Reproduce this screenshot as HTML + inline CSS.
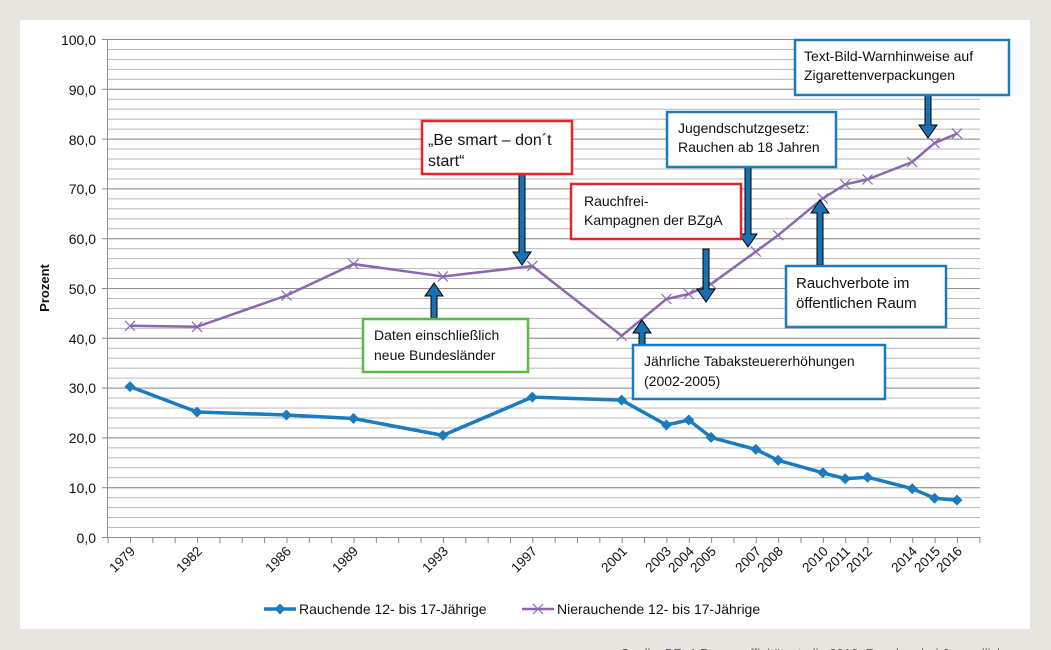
<!DOCTYPE html>
<html><head><meta charset="utf-8"><style>
html,body{margin:0;padding:0;background:#e6e6de;}
svg{display:block;font-family:"Liberation Sans",sans-serif;}
</style></head><body>
<svg width="1051" height="650" viewBox="0 0 1051 650" xmlns="http://www.w3.org/2000/svg">
<defs>
<pattern id="grid" x="107" y="39" width="900" height="9.96" patternUnits="userSpaceOnUse">
<line x1="0" y1="0.5" x2="900" y2="0.5" stroke="#b8b8b8" stroke-width="1"/>
</pattern>
<pattern id="ticks" x="107.65" y="537" width="22.35" height="6" patternUnits="userSpaceOnUse">
<line x1="0.5" y1="0" x2="0.5" y2="6" stroke="#888" stroke-width="1"/>
</pattern>
<marker id="d" viewBox="-6 -6 12 12" markerWidth="12" markerHeight="12" markerUnits="userSpaceOnUse">
<path d="M0,-5.5 L5.5,0 L0,5.5 L-5.5,0Z" fill="#1a7bbf"/>
</marker>
<marker id="x" viewBox="-6 -6 12 12" markerWidth="12" markerHeight="12" markerUnits="userSpaceOnUse">
<path d="M-5,-5 L5,5 M-5,5 L5,-5" stroke="#8a68b0" stroke-width="1.2"/>
</marker>
</defs>
<rect x="20" y="20" width="1010" height="609" fill="#fff"/>
<rect x="107" y="39" width="873" height="498" fill="url(#grid)"/>
<g stroke="#8f8f8f" stroke-width="1">
<line x1="107" y1="39.5" x2="980" y2="39.5"/><line x1="107" y1="89.3" x2="980" y2="89.3"/>
<line x1="107" y1="139.1" x2="980" y2="139.1"/><line x1="107" y1="188.9" x2="980" y2="188.9"/>
<line x1="107" y1="238.7" x2="980" y2="238.7"/><line x1="107" y1="288.5" x2="980" y2="288.5"/>
<line x1="107" y1="338.3" x2="980" y2="338.3"/><line x1="107" y1="388.1" x2="980" y2="388.1"/>
<line x1="107" y1="437.9" x2="980" y2="437.9"/><line x1="107" y1="487.7" x2="980" y2="487.7"/>
<line x1="107" y1="537.5" x2="980" y2="537.5"/>
<line x1="107.5" y1="39" x2="107.5" y2="537"/>
</g>
<g stroke="#8f8f8f"><line x1="102" y1="39.5" x2="107" y2="39.5"/><line x1="102" y1="89.3" x2="107" y2="89.3"/><line x1="102" y1="139.1" x2="107" y2="139.1"/><line x1="102" y1="188.9" x2="107" y2="188.9"/><line x1="102" y1="238.7" x2="107" y2="238.7"/><line x1="102" y1="288.5" x2="107" y2="288.5"/><line x1="102" y1="338.3" x2="107" y2="338.3"/><line x1="102" y1="388.1" x2="107" y2="388.1"/><line x1="102" y1="437.9" x2="107" y2="437.9"/><line x1="102" y1="487.7" x2="107" y2="487.7"/><line x1="102" y1="537.5" x2="107" y2="537.5"/></g>
<rect x="107" y="537" width="874" height="6" fill="url(#ticks)"/>
<g font-size="14" text-anchor="end" fill="#111">
<text x="96" y="45">100,0</text><text x="96" y="95">90,0</text><text x="96" y="145">80,0</text><text x="96" y="194">70,0</text><text x="96" y="244">60,0</text><text x="96" y="294">50,0</text><text x="96" y="344">40,0</text><text x="96" y="393">30,0</text><text x="96" y="443">20,0</text><text x="96" y="493">10,0</text><text x="96" y="543">0,0</text>
</g>
<text transform="translate(49,288) rotate(-90)" font-size="13" font-weight="bold" text-anchor="middle" fill="#111">Prozent</text>
<g font-size="13.5" text-anchor="end" fill="#111">
<text transform="translate(136,552) rotate(-45)">1979</text>
<text transform="translate(203,552) rotate(-45)">1982</text>
<text transform="translate(292,552) rotate(-45)">1986</text>
<text transform="translate(359,552) rotate(-45)">1989</text>
<text transform="translate(449,552) rotate(-45)">1993</text>
<text transform="translate(538,552) rotate(-45)">1997</text>
<text transform="translate(628,552) rotate(-45)">2001</text>
<text transform="translate(672,552) rotate(-45)">2003</text>
<text transform="translate(695,552) rotate(-45)">2004</text>
<text transform="translate(717,552) rotate(-45)">2005</text>
<text transform="translate(762,552) rotate(-45)">2007</text>
<text transform="translate(784,552) rotate(-45)">2008</text>
<text transform="translate(829,552) rotate(-45)">2010</text>
<text transform="translate(851,552) rotate(-45)">2011</text>
<text transform="translate(873,552) rotate(-45)">2012</text>
<text transform="translate(918,552) rotate(-45)">2014</text>
<text transform="translate(941,552) rotate(-45)">2015</text>
<text transform="translate(963,552) rotate(-45)">2016</text>
</g>
<polyline fill="none" stroke="#8a68b0" stroke-width="2.5" marker-start="url(#x)" marker-mid="url(#x)" marker-end="url(#x)"
points="130,325.8 197.05,326.8 286.45,295.5 353.5,264.1 442.9,276.5 532.3,266.1 621.7,335.8 666.4,299 688.75,294 711.1,284 755.8,251.6 778.15,235.2 822.85,198.4 845.2,184.4 867.55,179.4 912.25,162 934.6,143.1 956.95,133.6"/>
<polyline fill="none" stroke="#1a7bbf" stroke-width="3.5" stroke-linejoin="round" marker-start="url(#d)" marker-mid="url(#d)" marker-end="url(#d)"
points="130,386.6 197.05,412 286.45,415 353.5,418.5 442.9,435.4 532.3,397.1 621.7,400.1 666.4,425 688.75,420 711.1,437.4 755.8,449.4 778.15,460.3 822.85,472.8 845.2,478.7 867.55,477.2 912.25,488.7 934.6,498.2 956.95,500.1"/>
<g fill="#1a6fb0" stroke="#000" stroke-width="1">
<path d="M519,174 h6 v78 h6 l-9,13 l-9,-13 h6z"/>
<path d="M703,249 h6 v40 h6 l-9,13 l-9,-13 h6z"/>
<path d="M745,167 h6 v67 h6 l-9,13 l-9,-13 h6z"/>
<path d="M925,95 h6 v30 h6 l-9,13 l-9,-13 h6z"/>
<path d="M817,265 h6 v-52 h6 l-9,-13 l-9,13 h6z"/>
<path d="M431,318 h6 v-22 h6 l-9,-13 l-9,13 h6z"/>
<path d="M639,345 h6 v-12 h6 l-9,-13 l-9,13 h6z"/>
</g>
<g font-size="14" fill="#111">
<rect x="422" y="121" width="150" height="53" fill="#fff" stroke="#e0262b" stroke-width="2.5"/>
<text x="428" y="145" font-size="16">„Be smart – don´t</text><text x="428" y="166" font-size="16">start“</text>
<rect x="571" y="184" width="170" height="55" fill="#fff" stroke="#e0262b" stroke-width="2.5"/>
<text x="584" y="206">Rauchfrei-</text><text x="584" y="225">Kampagnen der BZgA</text>
<rect x="667" y="112" width="169" height="55" fill="#fff" stroke="#1a7bbf" stroke-width="2.5"/>
<text x="678" y="133">Jugendschutzgesetz:</text><text x="678" y="152">Rauchen ab 18 Jahren</text>
<rect x="795" y="40" width="214" height="55" fill="#fff" stroke="#1a7bbf" stroke-width="2.5"/>
<text x="804" y="61">Text-Bild-Warnhinweise auf</text><text x="804" y="80">Zigarettenverpackungen</text>
<rect x="786" y="266" width="160" height="61" fill="#fff" stroke="#1a7bbf" stroke-width="2.5"/>
<text x="796" y="288" font-size="15">Rauchverbote im</text><text x="796" y="308" font-size="15">öffentlichen Raum</text>
<rect x="363" y="319" width="165" height="53" fill="#fff" stroke="#5cb848" stroke-width="2.5"/>
<text x="374" y="340">Daten einschließlich</text><text x="374" y="360">neue Bundesländer</text>
<rect x="633" y="345" width="252" height="54" fill="#fff" stroke="#1a7bbf" stroke-width="2.5"/>
<text x="644" y="366">Jährliche Tabaksteuererhöhungen</text><text x="644" y="386">(2002-2005)</text>
</g>
<line x1="264" y1="609" x2="296" y2="609" stroke="#1a7bbf" stroke-width="3.5"/>
<path d="M280,603.5 L285.5,609 L280,614.5 L274.5,609Z" fill="#1a7bbf"/>
<text x="299" y="614" font-size="14" fill="#111">Rauchende 12- bis 17-Jährige</text>
<line x1="522" y1="609" x2="554" y2="609" stroke="#8a68b0" stroke-width="2.5"/>
<path d="M533,604 L543,614 M533,614 L543,604" stroke="#8a68b0" stroke-width="1.2"/>
<text x="557" y="614" font-size="14" fill="#111">Nierauchende 12- bis 17-Jährige</text>
<text x="620" y="658" font-size="13" fill="#555">Quelle: BZgA Drogenaffinitätsstudie 2016, Rauchen bei Jugendlichen</text>
</svg>
</body></html>
